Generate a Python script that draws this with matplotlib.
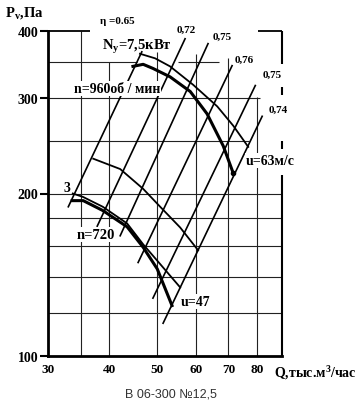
import matplotlib
matplotlib.use('Agg')
import matplotlib.pyplot as plt
from matplotlib.ticker import FixedLocator, NullLocator

# --- data (Q in thous. m3/h, Pv in Pa) ---
q_ticks = [30, 40, 50, 60, 70, 80]
p_ticks = [100, 200, 300, 400]

# thin outer curve, u = 63 m/s
u63_q = [46.2, 49.6, 53.2, 59.3, 66.4, 71.6, 76.8]
u63_p = [363, 356, 344, 318, 290, 267, 244]
# thick characteristic, n = 960 rpm
n960_q = [44.7, 46.9, 49.1, 53.2, 58.5, 63.3, 68.3, 71.6]
n960_p = [344, 347, 341, 329, 309, 281, 245, 218]
# middle curve
mid_q = [37.1, 42.1, 46.9, 50.8, 55.8, 60.7]
mid_p = [232, 222, 204, 189, 173, 157]
# thin lower curve, u = 47 m/s
u47_q = [33.7, 35.4, 38.8, 43.5, 46.9, 50.8, 55.8]
u47_p = [200, 197, 189, 176, 161, 148, 134]
# thick characteristic, n = 720 rpm
n720_q = [33.6, 35.4, 38.8, 43.5, 46.9, 50.1, 53.7]
n720_p = [194, 194, 186, 173.5, 159, 145, 124]

# efficiency lines (lower end, upper end)
eta_labels = ['\u03b7 =0.65', '0,72', '0,75', '0,76', '0,75', '0,74']
eta_q = [(33.0, 46.6), (37.8, 57.1), (42.1, 63.6), (45.8, 71.2), (49.1, 79.4), (51.5, 82.0)]
eta_p = [(189, 366), (174, 387), (167, 379), (149, 345), (128, 317), (115, 278)]

plt.rcParams['font.family'] = ['Liberation Serif', 'DejaVu Serif']
plt.rcParams['font.weight'] = 'bold'
plt.rcParams['mathtext.fontset'] = 'custom'
plt.rcParams['mathtext.rm'] = 'Liberation Serif:bold'
plt.rcParams['mathtext.it'] = 'Liberation Serif:bold'
plt.rcParams['mathtext.bf'] = 'Liberation Serif:bold'
plt.rcParams['mathtext.default'] = 'rm'

W, H = 360, 410
fig = plt.figure(figsize=(W / 100, H / 100), dpi=100)
ax = fig.add_axes([48 / W, 1 - 357 / H, (282 - 48) / W, (357 - 32) / H])
ax.set_xscale('log')
ax.set_yscale('log')
ax.set_xlim(30, 90)
ax.set_ylim(100, 400)

# grid, drawn with the gaps the original drawing has
grid_kw = dict(color='#222222', lw=0.8, zorder=1)
for x, top in zip([35, 40, 50, 60, 70, 80], [400, 350, 365, 363, 356, 302]):
    ax.vlines(x, 100, top, **grid_kw)
for y in [120, 140, 160, 180, 200]:
    ax.hlines(y, 30, 90, **grid_kw)
ax.hlines(250, 30, 77, **grid_kw)
ax.hlines(300, 30, 81, **grid_kw)
ax.hlines(350, 30, 45.5, **grid_kw)
ax.hlines(350, 55.3, 67, **grid_kw)

# frame
for s in ['top', 'right']:
    ax.spines[s].set_visible(False)
ax.spines['left'].set_linewidth(2)
ax.spines['bottom'].set_linewidth(2)
ax.hlines(400, 30, 36.5, color='k', lw=1.3, clip_on=False)
ax.hlines(400, 80.5, 90, color='k', lw=1.3, clip_on=False)
for lo, hi in [(348, 400), (304, 315), (242, 250), (100, 216)]:
    ax.vlines(90, lo, hi, color='k', lw=1.5, clip_on=False)

# curves
ax.plot(u63_q, u63_p, color='k', lw=1.3, clip_on=False, zorder=4)
ax.plot(n960_q, n960_p, color='k', lw=2.2, clip_on=False, zorder=4)
ax.plot(n960_q[-1], n960_p[-1], 'ko', ms=3, zorder=4)
ax.plot(mid_q, mid_p, color='k', lw=1.3)
ax.plot(u47_q, u47_p, color='k', lw=1.3)
ax.plot(n720_q, n720_p, color='k', lw=2.2)
for q, p in zip(eta_q, eta_p):
    ax.plot(q, p, color='k', lw=1.2, clip_on=False)

# ticks
ax.xaxis.set_major_locator(FixedLocator(q_ticks))
ax.xaxis.set_minor_locator(NullLocator())
ax.yaxis.set_major_locator(FixedLocator(p_ticks))
ax.yaxis.set_minor_locator(NullLocator())
ax.set_xticklabels([str(v) for v in q_ticks], fontsize=9.5, fontweight='bold')
ax.set_yticklabels([str(v) for v in p_ticks], fontsize=10, fontweight='bold')
ax.tick_params(axis='x', length=0, pad=5)
ax.tick_params(axis='y', length=6, width=1.5, pad=1)

# labels inside the plot
box = dict(facecolor='white', edgecolor='none', pad=0.6)
eta_pos = [(41.5, 418), (57.4, 403), (67.9, 391), (75.4, 354), (86.0, 332), (88.4, 287)]
for (x, y), t in zip(eta_pos, eta_labels):
    ax.text(x, y, t, fontsize=8, ha='center', va='center', bbox=box, clip_on=False)
ax.text(45.6, 375, r'$\mathrm{N_y}$=7,5кВт', fontsize=10.5, ha='center', va='center')
ax.text(41.5, 313, 'n=960об / мин', fontsize=10, ha='center', va='center', bbox=box)
ax.text(85.1, 230, 'u=63м/с', fontsize=10, ha='center', va='center', bbox=box, clip_on=False)
ax.text(32.8, 205, '3', fontsize=10, ha='center', va='center')
ax.text(37.6, 168, 'n=720', fontsize=10.5, ha='center', va='center', bbox=box)
ax.text(59.9, 126, 'u=47', fontsize=10, ha='center', va='center', bbox=box)

# axis titles
fig.text(5 / W, 1 - 13 / H, r'$\mathrm{P_v}$,Па', fontsize=10.5, ha='left', va='center')
fig.text(274 / W, 1 - 373 / H, r'Q,тыс.м$^\mathrm{3}$/час', fontsize=10, ha='left', va='center')
fig.text(171 / W, 1 - 395 / H, 'В 06-300 №12,5', family='Liberation Sans',
         fontweight='normal', fontsize=9, color='#333333', ha='center', va='center')

fig.savefig('out.png', dpi=100)
